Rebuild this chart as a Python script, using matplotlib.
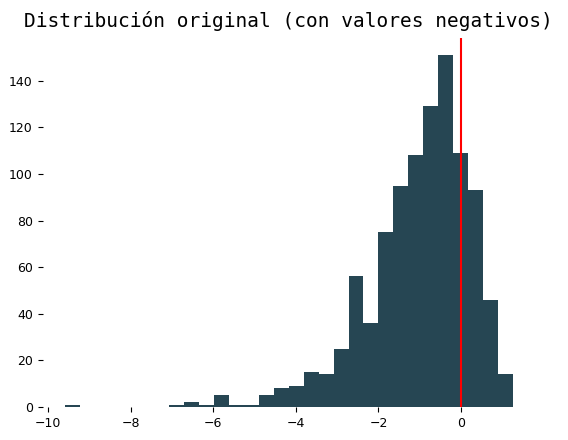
import numpy as np
import matplotlib
matplotlib.use("Agg")
import matplotlib.pyplot as plt

# histogram range and counts
x_min, x_max = -9.59, 1.25
counts = [1, 0, 0, 0, 0, 0, 0, 1, 2, 1, 5, 1, 1, 5, 8, 9, 15, 14, 25, 56,
          36, 75, 95, 108, 129, 151, 109, 93, 46, 14]
xticks = [-10, -8, -6, -4, -2, 0]
yticks = [0, 20, 40, 60, 80, 100, 120, 140]

edges = np.linspace(x_min, x_max, len(counts) + 1)

fig, ax = plt.subplots(figsize=(5.68, 4.40), dpi=100)
ax.bar(edges[:-1], counts, width=np.diff(edges), align="edge", color="#264653", linewidth=0)
ax.axvline(0, color="red", linewidth=1.5)
ax.set_title("Distribución original (con valores negativos)", fontsize=14,
             family=["DejaVu Sans Mono"], pad=8)
for s in ax.spines.values():
    s.set_visible(False)
ax.set_xticks(xticks)
ax.set_yticks(yticks)
ax.tick_params(labelsize=9)
ax.set_xlim(-10.13, 1.79)
ax.set_ylim(0, 158.4)
plt.subplots_adjust(left=0.075, right=0.942, top=0.914, bottom=0.075)
fig.savefig("out.png")
